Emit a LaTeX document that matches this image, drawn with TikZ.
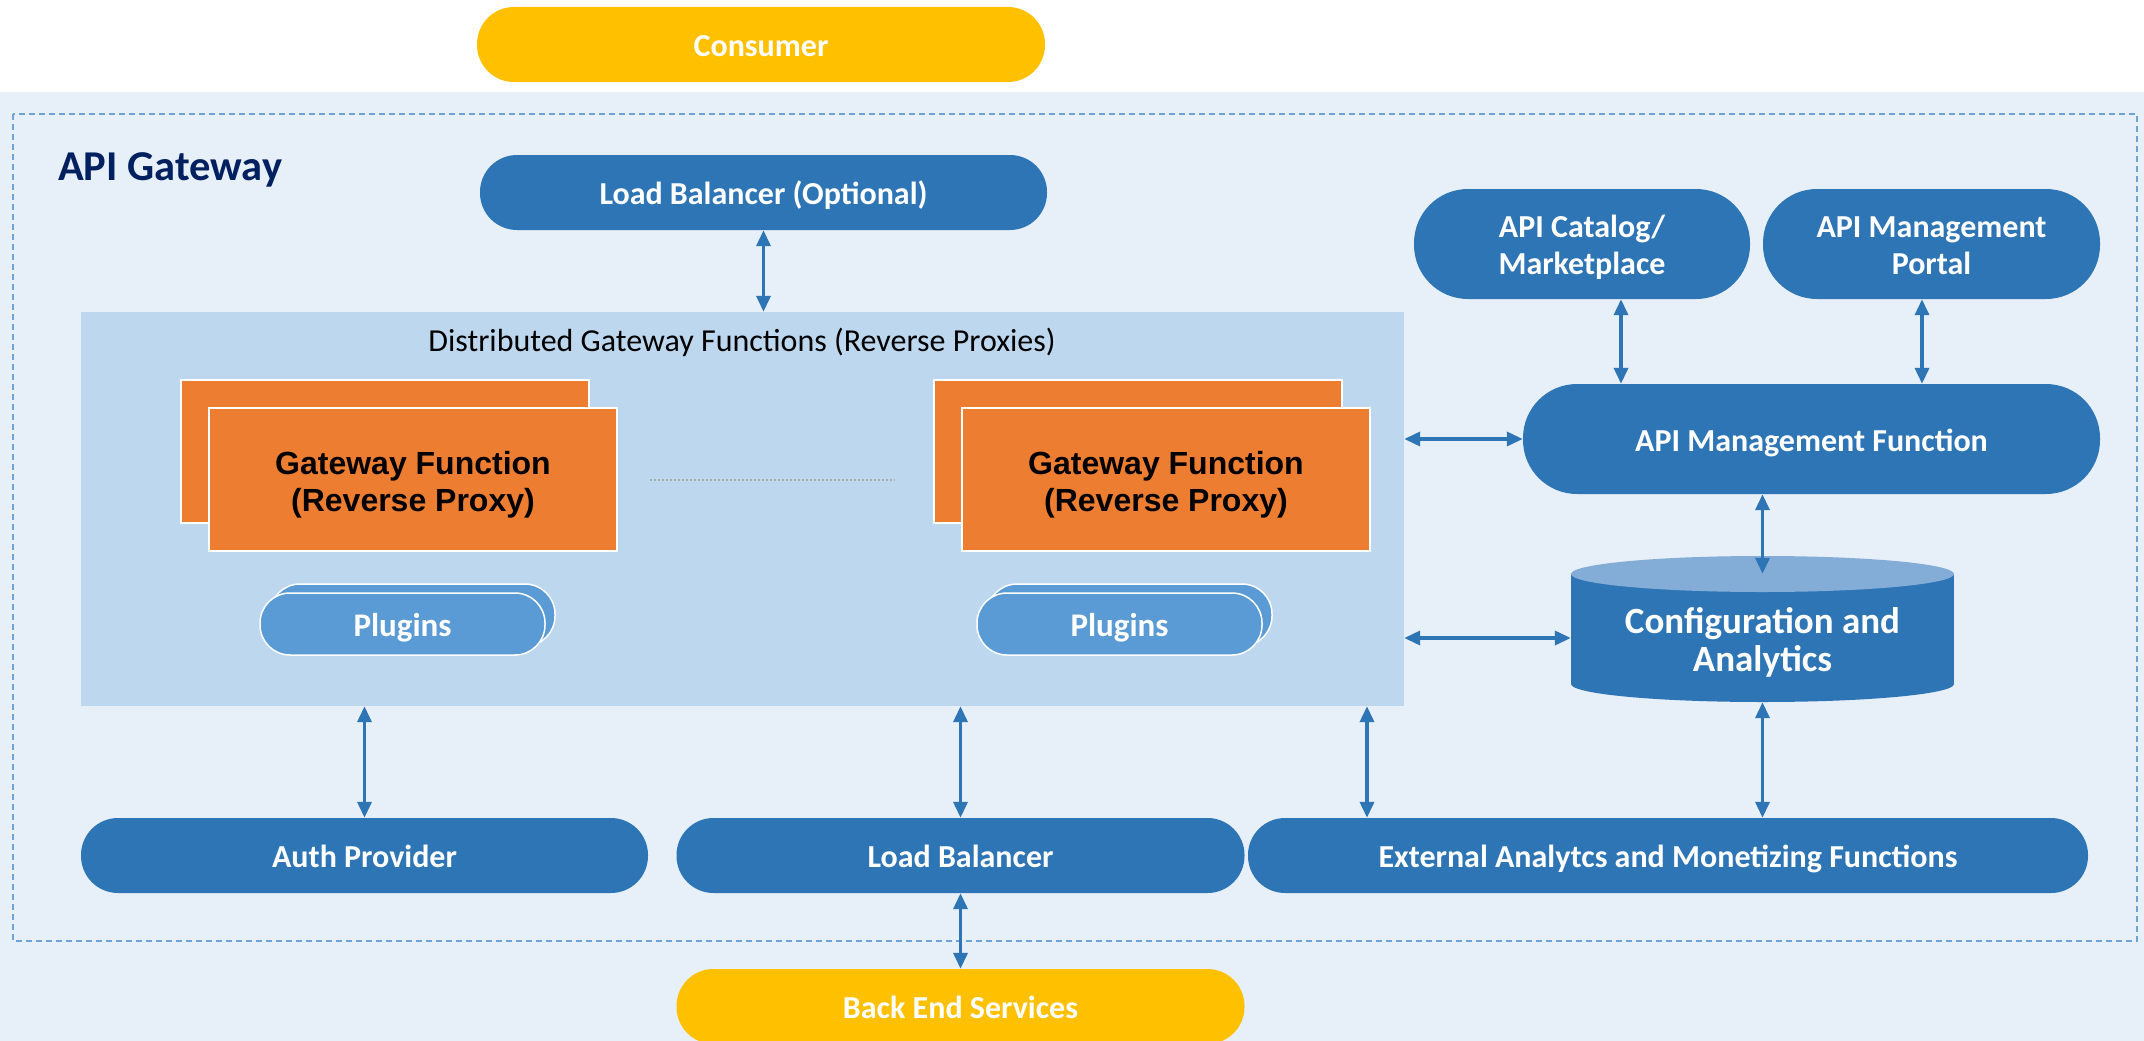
\documentclass[tikz,border=0pt]{standalone}
\usepackage{fontspec}
\setmainfont{Carlito}
\newfontfamily\arialf{Liberation Sans}
\usetikzlibrary{arrows.meta,calc}
\definecolor{bgc}{HTML}{E7EFF8}
\definecolor{dgfc}{HTML}{BDD7EE}
\definecolor{pblue}{HTML}{2E75B6}
\definecolor{plugc}{HTML}{5B9BD5}
\definecolor{orc}{HTML}{ED7D31}
\definecolor{yelc}{HTML}{FFC000}
\definecolor{navyc}{HTML}{002060}
\definecolor{cyltop}{HTML}{83ACD6}
\definecolor{dashc}{HTML}{6FA3D8}
\newcommand\fsz[2]{\fontsize{#1}{#2}\selectfont}
% two-line text with top strut (#1) and bottom depth strut (#2)
\newcommand\twolines[4]{\rule{0pt}{#1}#3\\#4\rule[-#2]{0pt}{#2}}
\begin{document}
\begin{tikzpicture}[x=1pt,y=-1pt,
  pill/.style={rounded corners=#1, fill=pblue, text=white, font=\fsz{32}{37}\bfseries, align=center, inner sep=0pt},
  oneline/.style={text height=32pt, text depth=8pt},
  ypill/.style={pill=37pt, fill=yelc, oneline},
  gfbox/.style={fill=orc, draw=white, line width=1.5pt, minimum width=408pt, minimum height=143pt, inner sep=0pt},
  plugbox/.style={rounded corners=30pt, fill=plugc, draw=white, line width=1.5pt, minimum width=285pt, minimum height=62pt, inner sep=0pt, text=white, font=\fsz{33}{38}\bfseries, text height=32pt, text depth=8pt},
  biarrow/.style={draw=pblue, line width=3.5pt, {Triangle[length=16pt,width=14pt]}-{Triangle[length=16pt,width=14pt]}}
]
\useasboundingbox (0,0) rectangle (2144,1041);
\clip (0,0) rectangle (2144,1041);
\fill[white] (0,0) rectangle (2144,1041);
\fill[bgc] (0,92) rectangle (2144,1041);
\draw[dashc, line width=1.3pt, dash pattern=on 6pt off 4pt] (13,114) rectangle (2137,941);

\node[anchor=base west, text=navyc, font=\fsz{42.5}{48}\bfseries, inner sep=0pt] (apigw) at (58,180) {API Gateway};

% top
\node[ypill, minimum width=568pt, minimum height=75pt] (consumer) at (761,44.5) {Consumer};
\node[pill=37pt, oneline, minimum width=567pt, minimum height=75pt] (lbo) at (763.5,192.5) {Load Balancer (Optional)};

% DGF
\node[fill=dgfc, minimum width=1323pt, minimum height=394pt, inner sep=0pt] (dgf) at (742.5,509) {};
\node[font=\fsz{32}{37}, inner sep=0pt, anchor=base] (dgft) at (742,351) {Distributed Gateway Functions (Reverse Proxies)};

\node[gfbox] (gf1b) at (385,451.5) {};
\node[gfbox, font=\arialf\fsz{32}{37}\bfseries, align=center] (gf1) at (413,479.5) {\twolines{35pt}{8pt}{Gateway Function}{(Reverse Proxy)}};
\node[gfbox] (gf2b) at (1138,451.5) {};
\node[gfbox, font=\arialf\fsz{32}{37}\bfseries, align=center] (gf2) at (1166,479.5) {\twolines{35pt}{8pt}{Gateway Function}{(Reverse Proxy)}};
\draw[gray!65, line width=2pt, dotted] ([xshift=32pt]gf1.east) -- ([xshift=-38pt]gf2b.west |- gf1.east);

\node[plugbox] (pl1b) at (412.5,615) {};
\node[plugbox] (pl1) at (402.5,624) {Plugins};
\node[plugbox] (pl2b) at (1129.5,615) {};
\node[plugbox] (pl2) at (1119.5,624) {Plugins};

% right side
\node[pill=54pt, minimum width=336pt, minimum height=110pt] (catalog) at (1582,244) {\twolines{31pt}{8pt}{API Catalog/}{Marketplace}};
\node[pill=54pt, minimum width=337pt, minimum height=110pt] (portal) at (1931.5,244) {\twolines{31pt}{8pt}{API Management}{Portal}};
\node[pill=54pt, oneline, minimum width=577pt, minimum height=110pt] (apimf) at (1811.5,439) {API Management Function};

% cylinder
\fill[pblue] (1571,574) rectangle (1954,684);
\fill[pblue] (1762.5,684) ellipse [x radius=191.5pt, y radius=18pt];
\fill[cyltop] (1762.5,574) ellipse [x radius=191.5pt, y radius=18pt];
\node[minimum width=383pt, minimum height=128pt, inner sep=0pt, text=white, font=\fsz{37}{38}\bfseries, align=center] (cfg) at (1762.5,638) {\twolines{36pt}{8pt}{Configuration and}{Analytics}};

% bottom
\node[pill=37pt, oneline, minimum width=567pt, minimum height=75pt] (auth) at (364.5,855.5) {Auth Provider};
\node[pill=37pt, oneline, minimum width=568pt, minimum height=75pt] (lb) at (960.5,855.5) {Load Balancer};
\node[pill=37pt, oneline, minimum width=840pt, minimum height=75pt] (ext) at (1668,855.5) {External Analytcs and Monetizing Functions};
\node[ypill, minimum width=568pt, minimum height=75pt] (be) at (960.5,1006.5) {Back End Services};

% connectors
\draw[biarrow] (lbo.south) -- (lbo.south |- dgf.north);
\draw[biarrow] ([xshift=39pt]catalog.south) -- ([xshift=39pt]catalog.south |- apimf.north);
\draw[biarrow] ([xshift=-9.5pt]portal.south) -- ([xshift=-9.5pt]portal.south |- apimf.north);
\draw[biarrow] (dgf.east |- apimf.west) -- (apimf.west);
\draw[biarrow] (cfg.north) -- (cfg.north |- apimf.south);
\draw[biarrow] (dgf.east |- cfg.west) -- (cfg.west);
\draw[biarrow] (auth.north) -- (auth.north |- dgf.south);
\draw[biarrow] (lb.north) -- (lb.north |- dgf.south);
\draw[biarrow] ([xshift=-301pt]ext.north) -- ([xshift=-301pt]ext.north |- dgf.south);
\draw[biarrow] (ext.north -| cfg.south) -- (cfg.south);
\draw[biarrow] (lb.south) -- (be.north);
\end{tikzpicture}
\end{document}
